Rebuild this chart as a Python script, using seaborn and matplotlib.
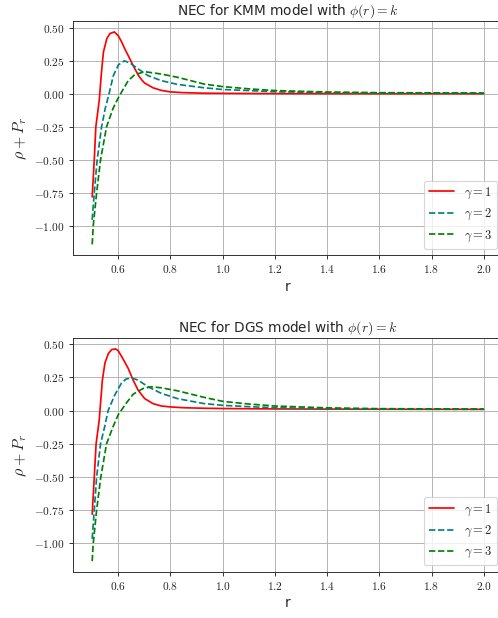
import numpy as np
import matplotlib
matplotlib.use("Agg")
import matplotlib.pyplot as plt
import seaborn as sns
from matplotlib.ticker import FuncFormatter, MultipleLocator

sns.set_style("ticks")
plt.rcParams['font.family'] = ['DejaVu Sans']
plt.rcParams['mathtext.fontset'] = 'cm'

# --- values ---
# KMM model
kmm_r1 = [0.500, 0.508, 0.514, 0.527, 0.535, 0.543, 0.556, 0.568, 0.585, 0.600, 0.613, 0.625, 0.638,
          0.657, 0.676, 0.690, 0.701, 0.733, 0.765, 0.800, 0.850, 0.930, 1.000, 1.200, 1.500, 2.000]
kmm_y1 = [-0.78, -0.50, -0.25, -0.05, 0.15, 0.316, 0.418, 0.457, 0.469, 0.44, 0.393, 0.34, 0.29,
          0.214, 0.143, 0.105, 0.082, 0.046, 0.026, 0.015, 0.009, 0.005, 0.004, 0.002, 0.001, 0.001]
kmm_r2 = [0.500, 0.508, 0.519, 0.536, 0.550, 0.562, 0.581, 0.600, 0.623, 0.644, 0.676, 0.714,
          0.765, 0.828, 0.929, 1.000, 1.100, 1.200, 1.400, 1.600, 2.000]
kmm_y2 = [-0.954, -0.75, -0.50, -0.25, -0.11, -0.02, 0.138, 0.219, 0.250, 0.235, 0.189, 0.138,
          0.100, 0.071, 0.046, 0.033, 0.025, 0.016, 0.009, 0.006, 0.004]
kmm_r3 = [0.500, 0.504, 0.517, 0.532, 0.555, 0.580, 0.600, 0.619, 0.638, 0.663, 0.701, 0.765,
          0.828, 0.929, 1.000, 1.100, 1.200, 1.400, 1.600, 2.000]
kmm_y3 = [-1.14, -1.00, -0.75, -0.50, -0.25, -0.11, -0.03, 0.036, 0.100, 0.145, 0.168, 0.150,
          0.125, 0.074, 0.055, 0.038, 0.025, 0.014, 0.009, 0.006]

# DGS model
dgs_r1 = [0.500, 0.508, 0.515, 0.527, 0.539, 0.549, 0.562, 0.575, 0.590, 0.600, 0.613, 0.625, 0.638,
          0.657, 0.676, 0.701, 0.733, 0.765, 0.800, 0.850, 0.929, 1.000, 1.200, 1.500, 2.000]
dgs_y1 = [-0.78, -0.50, -0.25, -0.07, 0.23, 0.36, 0.43, 0.46, 0.465, 0.45, 0.407, 0.365, 0.318,
          0.23, 0.154, 0.091, 0.053, 0.035, 0.028, 0.022, 0.018, 0.016, 0.013, 0.011, 0.010]
dgs_r2 = [0.500, 0.508, 0.517, 0.532, 0.548, 0.561, 0.587, 0.613, 0.630, 0.650, 0.676, 0.714,
          0.765, 0.828, 0.929, 1.000, 1.100, 1.200, 1.400, 1.600, 2.000]
dgs_y2 = [-0.965, -0.75, -0.50, -0.25, -0.12, 0.00, 0.12, 0.21, 0.238, 0.247, 0.230, 0.180,
          0.130, 0.090, 0.053, 0.040, 0.030, 0.022, 0.014, 0.011, 0.010]
dgs_r3 = [0.500, 0.504, 0.517, 0.533, 0.555, 0.580, 0.600, 0.632, 0.657, 0.695, 0.727, 0.765,
          0.828, 0.929, 1.000, 1.100, 1.200, 1.400, 1.600, 2.000]
dgs_y3 = [-1.133, -1.00, -0.75, -0.50, -0.25, -0.12, -0.03, 0.06, 0.124, 0.167, 0.180, 0.172,
          0.149, 0.100, 0.070, 0.050, 0.035, 0.021, 0.015, 0.012]

labels = [r'$\gamma = 1$', r'$\gamma = 2$', r'$\gamma = 3$']
colors = ['red', 'teal', 'green']
styles = ['-', '--', '--']

panels = [
    ("NEC for KMM model with $\\phi(r) = k$",
     [(kmm_r1, kmm_y1), (kmm_r2, kmm_y2), (kmm_r3, kmm_y3)]),
    ("NEC for DGS model with $\\phi(r) = k$",
     [(dgs_r1, dgs_y1), (dgs_r2, dgs_y2), (dgs_r3, dgs_y3)]),
]

fig = plt.figure(figsize=(498 / 82, 618 / 82), dpi=82)
positions = [[0.1458, 0.5874, 0.8648, 0.3781], [0.1458, 0.0749, 0.8648, 0.3777]]

for pos, (title, curves) in zip(positions, panels):
    ax = fig.add_axes(pos)
    for (r, y), lab, col, ls in zip(curves, labels, colors, styles):
        sns.lineplot(x=r, y=y, ax=ax, color=col, linestyle=ls, linewidth=1.5, label=lab, sort=False)
    ax.grid(True, color='#b0b0b0', linewidth=0.8)
    ax.set_axisbelow(True)
    ax.yaxis.set_major_locator(MultipleLocator(0.25))
    ax.yaxis.set_major_formatter(FuncFormatter(lambda v, p: r'$%.2f$' % v))
    ax.xaxis.set_major_formatter(FuncFormatter(lambda v, p: r'$%.1f$' % v))
    ax.tick_params(labelsize=10, length=3.5, width=0.8)
    ax.set_xlabel('r', fontsize=12)
    ax.set_ylabel(r'$\rho + P_r$', fontsize=14)
    ax.set_title(title, fontsize=12)
    ax.legend(loc='lower right', fontsize=11)
    for s in ax.spines.values():
        s.set_color('0.15')

fig.savefig('out.png', dpi=82)
